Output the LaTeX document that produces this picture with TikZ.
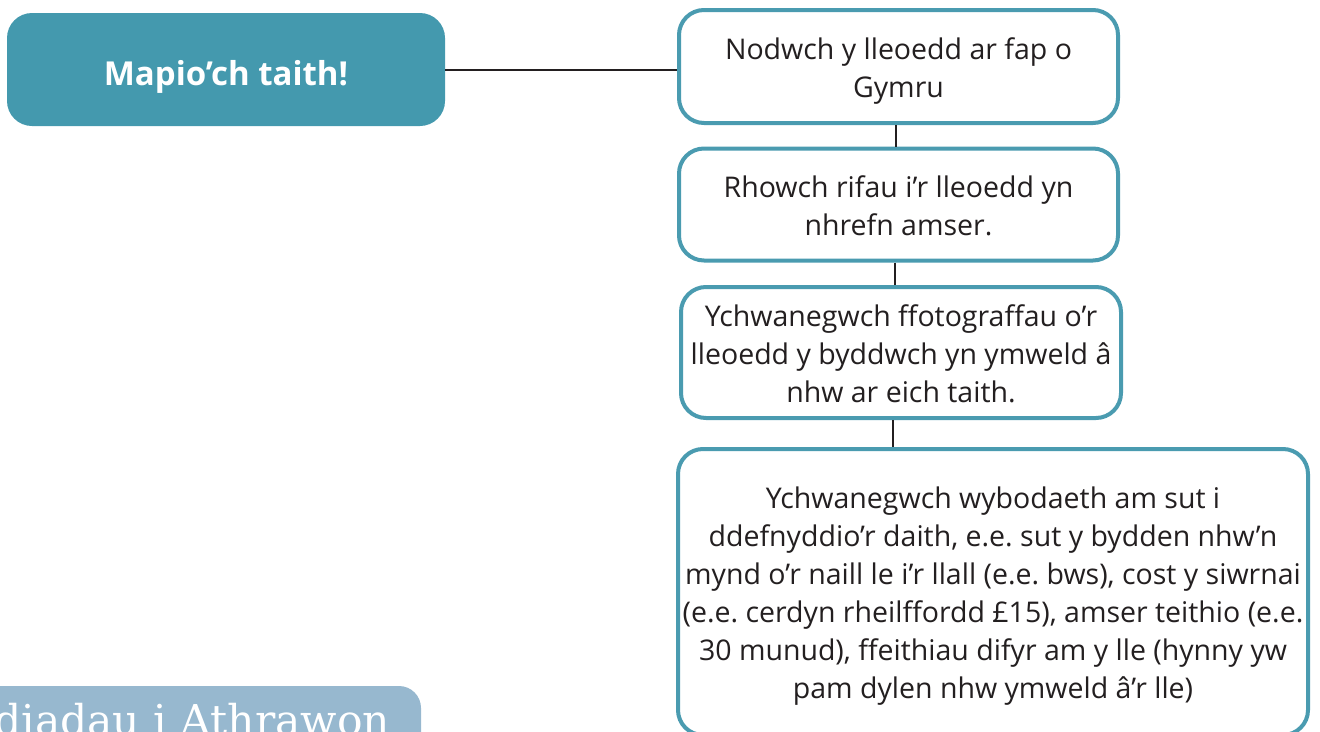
\documentclass[tikz,border=0pt]{standalone}
\usepackage{fontspec}
\setmainfont{Open Sans}
\newfontfamily\slabfont{DejaVu Serif}
\usetikzlibrary{positioning}
\frenchspacing
\definecolor{tealfill}{HTML}{4499AE}
\definecolor{tealline}{HTML}{4A9BB0}
\definecolor{guideblue}{HTML}{97B8CF}
\definecolor{inktext}{HTML}{231F20}
\tikzset{
  titlebox/.style={fill=tealfill, rounded corners=25pt, text=white, inner sep=0pt,
    text height=36pt, text depth=5pt, font=\bfseries\fontsize{33}{38}\selectfont},
  stepbox/.style={draw=tealline, line width=4pt, rounded corners=25pt, fill=white,
    align=center, text=inktext, inner sep=0pt, font=\fontsize{28.5}{38}\selectfont,
    text height=#1, text depth=7pt},
  link/.style={draw=inktext, line width=2pt}
}
\begin{document}
\begin{tikzpicture}[x=1pt,y=1pt]
\useasboundingbox (0,0) rectangle (1320,-731);
\clip (0,0) rectangle (1320,-731);
% teacher guide tab, cut by the page edge
\fill[guideblue, rounded corners=22pt] (-40,-686) rectangle (421,-780);
\node[anchor=base west, inner sep=0pt, text=white, font=\slabfont\fontsize{42.5}{42}\selectfont] (guide) at (-6,-735) {diadau i Athrawon};
% title and steps
\node[titlebox, minimum width=438pt, minimum height=113pt] (title) at (226,-69.5) {Mapio’ch taith!};
\node[stepbox=68pt, minimum width=439pt, minimum height=113pt] (s1) at (898.5,-66.5) {Nodwch y lleoedd ar fap o\\Gymru};
\node[stepbox=68pt, minimum width=439pt, minimum height=112pt] (s2) at (898.5,-204.5) {Rhowch rifau i’r lleoedd yn\\nhrefn amser.};
\node[stepbox=106pt, minimum width=440pt, minimum height=131pt] (s3) at (901,-352.5) {Ychwanegwch ffotograffau o’r\\lleoedd y byddwch yn ymweld â\\nhw ar eich taith.};
\node[stepbox=219pt, minimum width=630pt, minimum height=286pt] (s4) at (993,-592) {Ychwanegwch wybodaeth am sut i\\ddefnyddio’r daith, e.e. sut y bydden nhw’n\\mynd o’r naill le i’r llall (e.e. bws), cost y siwrnai\\(e.e. cerdyn rheilffordd £15), amser teithio (e.e.\\30 munud), ffeithiau difyr am y lle (hynny yw\\pam dylen nhw ymweld â’r lle)};
% connectors
\draw[link] (title.east) -- (title.east -| s1.west);
\draw[link] ([xshift=-3pt]s1.south) -- ([xshift=-3pt]s1.south |- s2.north);
\draw[link] ([xshift=-4pt]s2.south) -- ([xshift=-4pt]s2.south |- s3.north);
\draw[link] ([xshift=-8pt]s3.south) -- ([xshift=-8pt]s3.south |- s4.north);
\end{tikzpicture}
\end{document}
